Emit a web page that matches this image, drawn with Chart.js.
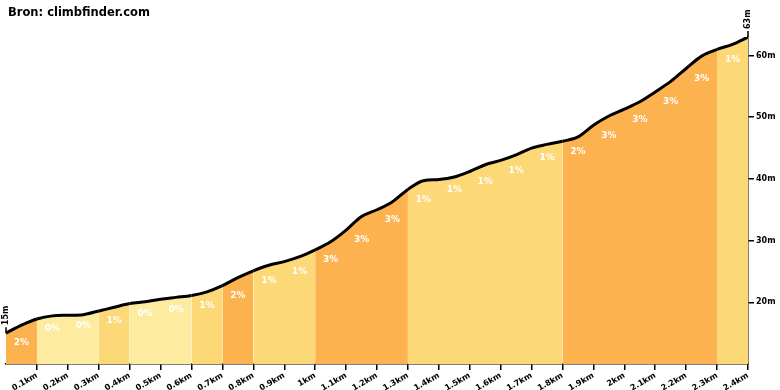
<!DOCTYPE html>
<html>
<head>
	<title>ClimbProfile</title>
	<style>
		html, body { margin: 0; padding: 0; background: #ffffff; }
		#wrap { width: 780px; height: 390px; }
	</style>
	<script src="https://cdn.jsdelivr.net/npm/chart.js"></script>
</head>
<body>
	<div id="wrap"><canvas id="profile" width="780" height="390"></canvas></div>
	<script>
		// distance (km) and elevation (m)
		const distances = [0, 0.05, 0.1, 0.15, 0.2, 0.25, 0.3, 0.35, 0.4, 0.45, 0.5, 0.55, 0.6, 0.65, 0.7, 0.75, 0.8, 0.85, 0.9, 0.95,
			1.0, 1.05, 1.1, 1.15, 1.2, 1.25, 1.3, 1.35, 1.4, 1.45, 1.5, 1.55, 1.6, 1.65, 1.7, 1.75, 1.8, 1.85, 1.9, 1.95,
			2.0, 2.05, 2.1, 2.15, 2.2, 2.25, 2.3, 2.35, 2.4];
		const elevations = [15.0, 16.3, 17.3, 17.8, 17.9, 18.0, 18.6, 19.2, 19.8, 20.1, 20.5, 20.8, 21.1, 21.7, 22.7, 24.0, 25.1, 26.0, 26.6, 27.4,
			28.5, 29.8, 31.7, 33.9, 35.0, 36.3, 38.3, 39.7, 39.9, 40.3, 41.2, 42.3, 43.0, 43.9, 45.0, 45.6, 46.1, 46.8, 48.7, 50.2,
			51.3, 52.5, 54.1, 55.8, 57.9, 59.9, 61.0, 61.8, 63.0];
		// gradient (%) of each 100 m stretch
		const grades = [2, 0, 0, 1, 0, 0, 1, 2, 1, 1, 3, 3, 3, 1, 1, 1, 1, 1, 2, 3, 3, 3, 3, 1];
		const gradeColors = ['#fdeba0', '#fdd877', '#fbb24f', '#fbb24f'];
		const titleText = 'Bron: climbfinder.com';

		const points = distances.map((d, i) => ({ x: d, y: elevations[i] }));
		const boldFont = 'bold 8px "DejaVu Sans", Verdana, sans-serif';

		const profileLabels = {
			id: 'profileLabels',
			afterDatasetsDraw(chart) {
				const ctx = chart.ctx;
				const xs = chart.scales.x, ys = chart.scales.y;
				ctx.save();
				// gradient labels
				ctx.fillStyle = '#ffffff';
				ctx.font = 'bold 9px "DejaVu Sans", Verdana, sans-serif';
				ctx.textAlign = 'center';
				ctx.textBaseline = 'middle';
				grades.forEach((g, i) => {
					const x = xs.getPixelForValue(distances[2 * i + 1]);
					const y = ys.getPixelForValue(elevations[2 * i]) + 10;
					ctx.fillText(g + '%', x, y);
				});
				// start and end heights
				ctx.fillStyle = '#000';
				ctx.strokeStyle = '#000';
				ctx.lineWidth = 1.5;
				ctx.font = boldFont;
				[0, distances.length - 1].forEach(i => {
					const px = xs.getPixelForValue(distances[i]);
					const py = ys.getPixelForValue(elevations[i]);
					ctx.beginPath();
					ctx.moveTo(px, py);
					ctx.lineTo(px, py - 6);
					ctx.stroke();
					ctx.save();
					ctx.translate(px, py - 8);
					ctx.rotate(-Math.PI / 2);
					ctx.textAlign = 'left';
					ctx.textBaseline = 'middle';
					ctx.fillText(Math.round(elevations[i]) + 'm', 0, 0);
					ctx.restore();
				});
				// title
				ctx.font = 'bold 11.5px "DejaVu Sans", Verdana, sans-serif';
				ctx.textAlign = 'left';
				ctx.textBaseline = 'alphabetic';
				ctx.fillText(titleText, 8, 16);
				ctx.restore();
			}
		};

		new Chart(document.getElementById('profile').getContext('2d'), {
			type: 'line',
			data: {
				datasets: [{
					data: points,
					borderColor: '#000',
					borderWidth: 3,
					pointRadius: 0,
					cubicInterpolationMode: 'monotone',
					fill: 'origin',
					backgroundColor: gradeColors[0],
					segment: {
						backgroundColor: c => gradeColors[grades[Math.min(grades.length - 1, Math.floor(c.p0DataIndex / 2))]]
					}
				}]
			},
			options: {
				responsive: false,
				animation: false,
				layout: { padding: { left: 6, top: 37, right: 0, bottom: 0 } },
				plugins: { legend: { display: false }, tooltip: { enabled: false } },
				scales: {
					x: {
						type: 'linear',
						min: 0,
						max: 2.4,
						afterFit: s => { s.height = 26; },
						border: { display: true, color: '#000', width: 1.5 },
						grid: { drawOnChartArea: false, color: '#000', tickLength: 6, lineWidth: 1.5 },
						ticks: {
							stepSize: 0.1,
							autoSkip: false,
							minRotation: 30,
							maxRotation: 30,
							padding: 1,
							color: '#000',
							font: { family: '"DejaVu Sans", Verdana, sans-serif', size: 8, weight: 'bold' },
							callback: v => {
								const r = Math.round(v * 10) / 10;
								return r === 0 ? null : r + 'km';
							}
						}
					},
					y: {
						position: 'right',
						min: 10,
						max: 63,
						afterFit: s => { s.width = 32; },
						border: { display: true, color: '#000', width: 1.5 },
						grid: { drawOnChartArea: false, color: '#000', tickLength: 6, lineWidth: 1.5 },
						afterBuildTicks: s => { s.ticks = [20, 30, 40, 50, 60].map(v => ({ value: v })); },
						ticks: {
							padding: 2,
							color: '#000',
							font: { family: '"DejaVu Sans", Verdana, sans-serif', size: 8, weight: 'bold' },
							callback: v => v + 'm'
						}
					}
				}
			},
			plugins: [profileLabels]
		});
	</script>
</body>
</html>
